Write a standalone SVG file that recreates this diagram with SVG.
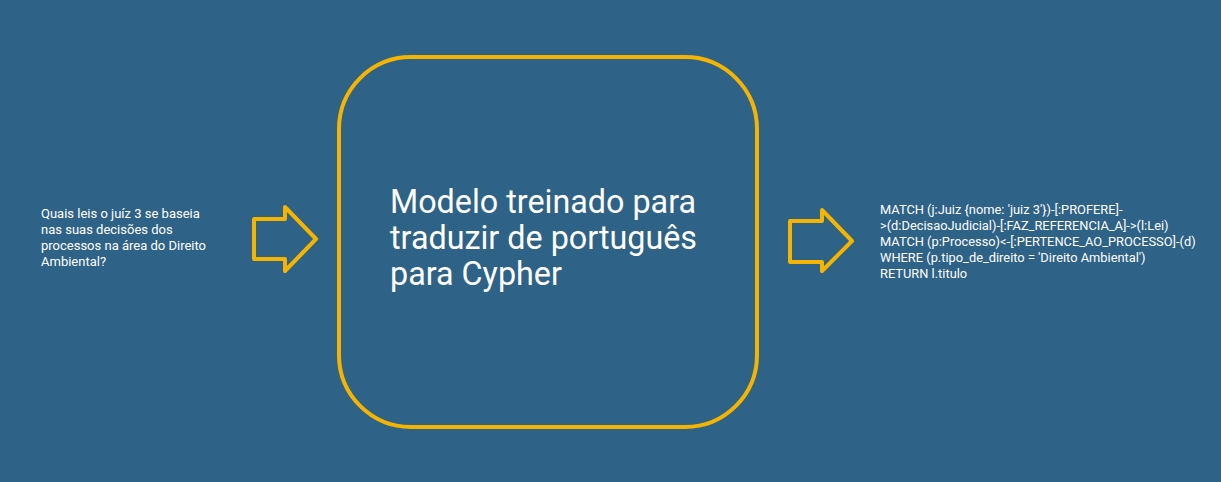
<svg xmlns="http://www.w3.org/2000/svg" width="1221" height="482" viewBox="0 0 1221 482">
<style>
.small{font-family:Roboto,"Liberation Sans",sans-serif;font-size:13px;fill:#ffffff}
.code{font-family:Roboto,"Liberation Sans",sans-serif;font-size:12.85px;fill:#ffffff}
.big{font-family:Roboto,"Liberation Sans",sans-serif;font-size:32.3px;fill:#ffffff}
.shape{fill:none;stroke:#f4b400;stroke-width:4;stroke-linejoin:round}
</style>
<rect x="0" y="0" width="1221" height="482" fill="#2e6287"/>
<g id="question">
<text class="small" x="41" y="218">Quais leis o juíz 3 se baseia</text>
<text class="small" x="41" y="234">nas suas decisões dos</text>
<text class="small" x="41" y="250">processos na área do Direito</text>
<text class="small" x="41" y="266">Ambiental?</text>
</g>
<g id="connectors">
<path class="shape" d="M254,219 H285 V207 L316,239 L285,271 V259 H254 Z"/>
<path class="shape" d="M790,221 H822 V210 L852,241 L822,271 V262 H790 Z"/>
</g>
<g id="model">
<rect class="shape" x="339" y="57" width="418" height="370" rx="72" ry="72"/>
<text class="big" x="390" y="213">Modelo treinado para</text>
<text class="big" x="390" y="249">traduzir de português</text>
<text class="big" x="390" y="285">para Cypher</text>
</g>
<g id="query">
<text class="code" x="880" y="214">MATCH (j:Juiz {nome: 'juiz 3'})-[:PROFERE]-</text>
<text class="code" x="880" y="230">&gt;(d:DecisaoJudicial)-[:FAZ_REFERENCIA_A]-&gt;(l:Lei)</text>
<text class="code" x="880" y="246">MATCH (p:Processo)&lt;-[:PERTENCE_AO_PROCESSO]-(d)</text>
<text class="code" x="880" y="262">WHERE (p.tipo_de_direito = 'Direito Ambiental')</text>
<text class="code" x="880" y="278">RETURN l.titulo</text>
</g>
</svg>
